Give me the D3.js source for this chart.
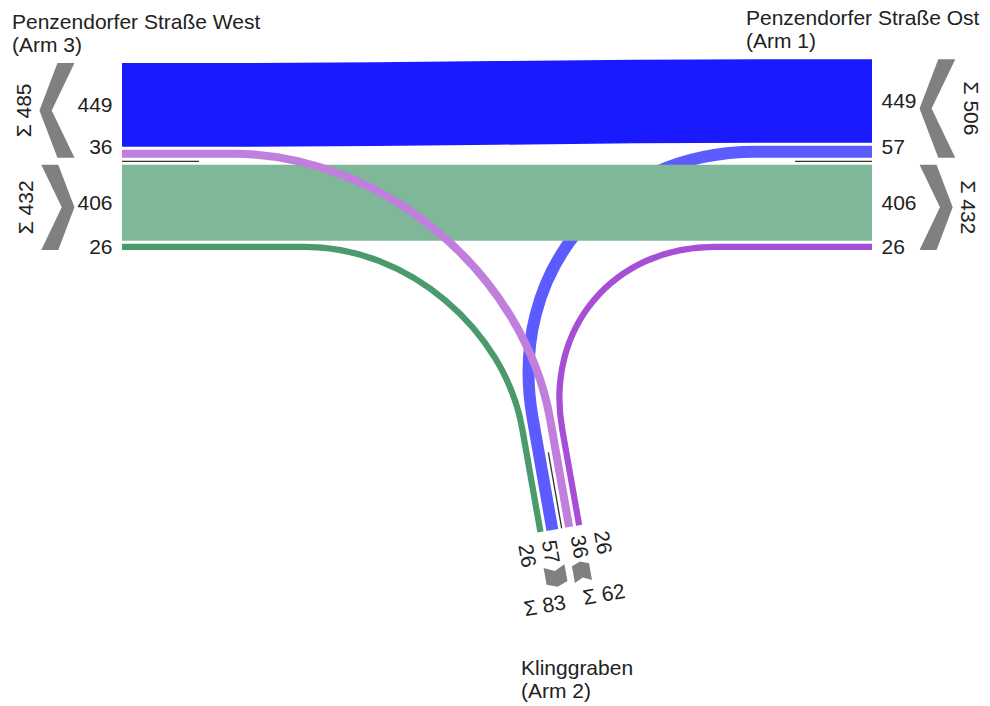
<!DOCTYPE html>
<html><head><meta charset="utf-8">
<script src="https://cdn.jsdelivr.net/npm/d3@7"></script>
<style>
body{margin:0;background:#fff}
text{font-family:"Liberation Sans",Arial,sans-serif;fill:#222}
</style>
</head><body>
<svg id="c" width="990" height="706"></svg>
<script>
// ---------------- data ----------------
const armNames   = ["Penzendorfer Straße Ost", "Klinggraben", "Penzendorfer Straße West"];
const armNumbers = ["(Arm 1)", "(Arm 2)", "(Arm 3)"];
// flows (draw order)
const flowFrom   = [0, 0, 2, 2, 1, 1];
const flowTo     = [2, 1, 0, 1, 0, 2];
const flowValues = [449, 57, 406, 26, 26, 36];
const flowColors = ["#1a1aff", "#5b5bff", "#7fb898", "#4a9a6c", "#a64fd6", "#c17fdd"];

// ---------------- layout ----------------
const armGeom = [
  {E:[872,161.3],   angle:0,   title:[746,25],  sigmaRot:90,  labelRot:0},
  {E:[561.7,528.3], angle:80,  title:[521,675], sigmaRot:-10, labelRot:80},
  {E:[122,161.3],   angle:180, title:[12,29],   sigmaRot:-90, labelRot:0}
];
const FS = 21, GAP0 = 3.5, GAP = 3;
const svg = d3.select("#c");
const wScale = d3.scaleLinear().domain([0, d3.max(flowValues)]).range([1.5, 83.7]);

const arms = armGeom.map((g,i)=>{
  const r = g.angle*Math.PI/180;
  const o = [Math.cos(r), Math.sin(r)];
  return {i, E:g.E, o, n:[-o[1], o[0]], g};
});
const cross = (a,b)=>a[0]*b[1]-a[1]*b[0];
const neg = a=>[-a[0],-a[1]];
const flows = flowValues.map((v,k)=>({k, v, from:arms[flowFrom[k]], to:arms[flowTo[k]], color:flowColors[k], w:wScale(v)}));

// lane assignment
arms.forEach(A=>{
  const outs = flows.filter(f=>f.to===A).sort((a,b)=>cross(neg(a.from.o),A.o)-cross(neg(b.from.o),A.o));
  const ins  = flows.filter(f=>f.from===A).sort((a,b)=>cross(neg(A.o),a.to.o)-cross(neg(A.o),b.to.o));
  let cur = GAP0;
  outs.forEach(f=>{f.sOut = cur + f.w/2; cur += f.w + GAP;});
  A.outLane = [GAP0, cur-GAP];
  cur = GAP0;
  ins.forEach(f=>{f.sIn = -(cur + f.w/2); cur += f.w + GAP;});
  A.inLane = [-(cur-GAP), -GAP0];
  A.outs = outs; A.ins = ins;
});
const pt = (A,a,s)=>[A.E[0]+a*A.o[0]+s*A.n[0], A.E[1]+a*A.o[1]+s*A.n[1]];
const add=(p,v,m)=>[p[0]+v[0]*m,p[1]+v[1]*m];

function flowPath(f){
  const A=f.from, B=f.to;
  const pA = pt(A,0,f.sIn), pB = pt(B,0,f.sOut);
  const oA=A.o, oB=B.o;
  const p = d3.path();
  p.moveTo(...pA);
  const det = -oA[0]*oB[1] + oB[0]*oA[1];
  if (Math.abs(det) < 1e-6){
    const L=110;
    const q1=add(pA,oA,-L), q2=add(pB,oB,-L);
    const m=Math.hypot(q1[0]-q2[0],q1[1]-q2[1])*0.5;
    p.lineTo(...q1);
    const c1=add(q1,oA,-m), c2=add(q2,oB,-m);
    p.bezierCurveTo(...c1,...c2,...q2);
    p.lineTo(...pB);
  } else {
    const d=[pB[0]-pA[0], pB[1]-pA[1]];
    const t=(d[0]*(-oB[1]) + oB[0]*d[1])/det;
    const C=add(pA,oA,t);
    const right = cross(neg(oA),oB) > 0;
    const r = right ? 185 : 270, h = 0.55;
    const S=add(C,oA,r), T=add(C,oB,r);
    p.lineTo(...S);
    p.bezierCurveTo(...add(S,oA,-h*r), ...add(T,oB,-h*r), ...T);
    p.lineTo(...pB);
  }
  return p.toString();
}

svg.append("g").selectAll("path").data(flows).join("path")
  .attr("d", flowPath).attr("fill","none")
  .attr("stroke", d=>d.color).attr("stroke-width", d=>d.w);

// separator lines
svg.append("g").selectAll("line").data(arms).join("line")
  .attr("x1", A=>A.E[0]).attr("y1", A=>A.E[1])
  .attr("x2", A=>pt(A,-77,0)[0]).attr("y2", A=>pt(A,-77,0)[1])
  .attr("stroke","#333").attr("stroke-width",1.3);

// number labels
const LA = 9.5;
arms.forEach(A=>{
  const rot = A.g.labelRot*Math.PI/180;
  const rd = [Math.cos(rot), Math.sin(rot)];
  const anchor = (rd[0]*A.o[0]+rd[1]*A.o[1]) > 0 ? "start" : "end";
  let prev = -Infinity;
  const items=[];
  A.outs.forEach(f=>{ const s=Math.max(f.sOut, 14.5, prev+24); prev=s; items.push([f.v,s]); });
  prev = Infinity;
  A.ins.forEach(f=>{ const s=Math.min(f.sIn, -14.5, prev-24); prev=s; items.push([f.v,s]); });
  let maxLen = 0;
  items.forEach(([v,s])=>{
    const P=pt(A,LA,s);
    const t=svg.append("text").attr("transform",`translate(${P[0]},${P[1]}) rotate(${A.g.labelRot})`)
      .attr("text-anchor",anchor).attr("dy","0.35em").attr("font-size",FS).text(v);
    maxLen=Math.max(maxLen,t.node().getComputedTextLength());
  });
  A.a0 = LA + maxLen + 3;
});

// chevrons + sums
arms.forEach(A=>{
  const T=17;
  [["out",A.outLane,A.outs],["in",A.inLane,A.ins]].forEach(([kind,lane,fl])=>{
    const [s0,s1]=lane, w=s1-s0, sm=(s0+s1)/2, Df=0.19*w, Db=0.24*w, a0=A.a0;
    let pts;
    if(kind==="out") pts=[[a0,s0],[a0+T,s0],[a0+T+Df,sm],[a0+T,s1],[a0,s1],[a0+Db,sm]];
    else pts=[[a0+Df,s0],[a0+Df+T,s0],[a0+Df+T-Db,sm],[a0+Df+T,s1],[a0+Df,s1],[a0,sm]];
    svg.append("polygon").attr("points", pts.map(([a,s])=>pt(A,a,s).join(",")).join(" "))
      .attr("fill","#808080");
    const sum=d3.sum(fl,f=>f.v);
    const t=svg.append("text").attr("text-anchor","middle").attr("dy","0.35em").attr("font-size",FS).text("Σ "+sum);
    const tw=t.node().getComputedTextLength();
    let sc = kind==="out" ? Math.max(sm, tw/2+9) : Math.min(sm, -(tw/2+9));
    const P=pt(A,a0+T+Df+16,sc);
    t.attr("transform",`translate(${P[0]},${P[1]}) rotate(${A.g.sigmaRot})`);
  });
});

// titles
arms.forEach((A,i)=>{
  const t=svg.append("text").attr("font-size",FS);
  t.append("tspan").attr("x",A.g.title[0]).attr("y",A.g.title[1]).text(armNames[i]);
  t.append("tspan").attr("x",A.g.title[0]).attr("dy",22.5).text(armNumbers[i]);
});
</script>
</body></html>
